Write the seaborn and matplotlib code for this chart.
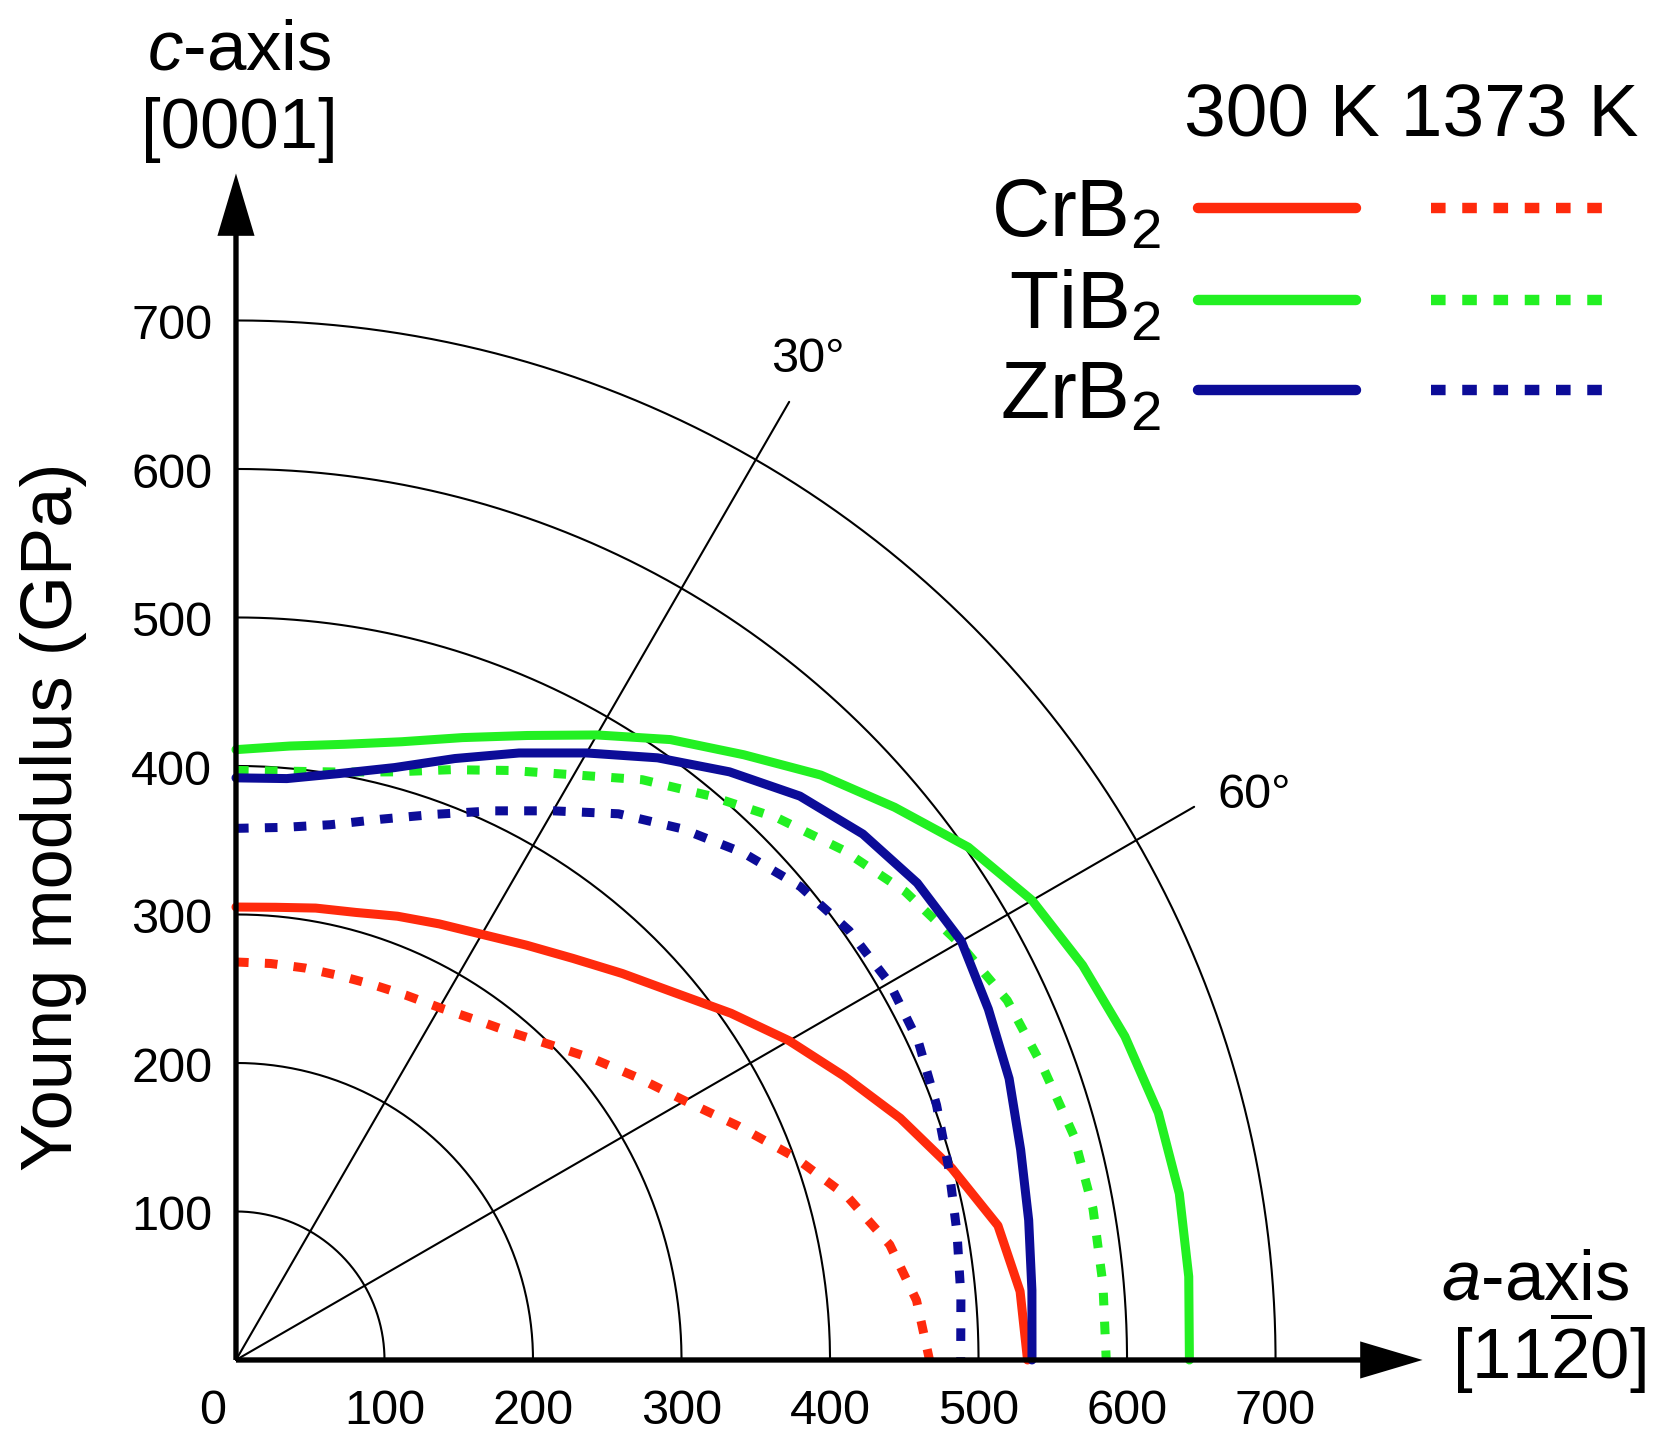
import numpy as np
import pandas as pd
import matplotlib
matplotlib.use("Agg")
import matplotlib.pyplot as plt
import seaborn as sns

# angle measured from the c-axis [0001] towards the a-axis, degrees
ANGLES = [0, 5, 10, 15, 20, 25, 30, 35, 40, 45, 50, 55, 60, 65, 70, 75, 80, 85, 90]

# Young modulus (GPa) read along each direction
CRB2_300K = [305, 306, 309, 312, 318, 324, 331, 341, 353, 368, 385, 407, 430, 452, 476, 499, 521, 530, 533]
CRB2_1373K = [268, 268, 268, 268, 269, 271, 274, 280, 288, 300, 315, 331, 349, 373, 400, 426, 447, 460, 467]
TIB2_300K = [411, 415, 421, 431, 446, 464, 486, 510, 532, 557, 579, 602, 619, 629, 637, 643, 645, 644, 642]
TIB2_1373K = [397, 398, 402, 410, 423, 438, 455, 477, 496, 516, 534, 550, 562, 573, 578, 584, 586, 586, 586]
ZRB2_300K = [392, 393, 401, 413, 431, 451, 472, 495, 517, 537, 551, 560, 564, 559, 554, 547, 542, 538, 536]
ZRB2_1373K = [358, 360, 366, 377, 391, 408, 427, 449, 467, 483, 496, 504, 508, 507, 502, 497, 493, 490, 488]

MATERIALS = ['CrB2', 'TiB2', 'ZrB2']
MATERIAL_LABELS = ['CrB$_2$', 'TiB$_2$', 'ZrB$_2$']
TEMPS = ['300 K', '1373 K']
COLORS = {'CrB2': '#ff2a0c', 'TiB2': '#22f022', 'ZrB2': '#0c0c98'}

GRID_RADII = [100, 200, 300, 400, 500, 600, 700]
RAY_ANGLES = [30, 60]
TICKS = [0, 100, 200, 300, 400, 500, 600, 700]

series = {
    ('CrB2', '300 K'): CRB2_300K, ('CrB2', '1373 K'): CRB2_1373K,
    ('TiB2', '300 K'): TIB2_300K, ('TiB2', '1373 K'): TIB2_1373K,
    ('ZrB2', '300 K'): ZRB2_300K, ('ZrB2', '1373 K'): ZRB2_1373K,
}
rows = []
for (mat, temp), vals in series.items():
    for ang, r in zip(ANGLES, vals):
        t = np.radians(ang)
        rows.append({'material': mat, 'temp': temp, 'x': r * np.sin(t), 'y': r * np.cos(t)})
df = pd.DataFrame(rows)

sns.set_style("white", rc={'text.color': 'black'})
plt.rcParams['font.family'] = ['Liberation Sans', 'DejaVu Sans']
plt.rcParams['mathtext.fontset'] = 'custom'
plt.rcParams['mathtext.rm'] = 'Liberation Sans'
plt.rcParams['mathtext.it'] = 'Liberation Sans:italic'
plt.rcParams['mathtext.default'] = 'regular'

fig = plt.figure(figsize=(16.63, 14.32), dpi=100)
ax = fig.add_axes([0, 0, 1, 1])
ax.set_xlim(-158.9, 960.9)
ax.set_ylim(-48.5, 915.8)
ax.axis('off')

# polar grid
arc = np.linspace(0, np.pi / 2, 200)
for r in GRID_RADII:
    ax.plot(r * np.sin(arc), r * np.cos(arc), color='black', lw=1.5, zorder=1)
for a in RAY_ANGLES:
    t = np.radians(a)
    ax.plot([0, 745 * np.sin(t)], [0, 745 * np.cos(t)], color='black', lw=1.5, zorder=1)

# axes with arrow heads
ax.arrow(0, 0, 0, 799, width=3.6, head_width=25, head_length=42,
         length_includes_head=True, fc='black', ec='none', zorder=4)
ax.arrow(0, 0, 799, 0, width=3.6, head_width=25, head_length=42,
         length_includes_head=True, fc='black', ec='none', zorder=4)

sns.lineplot(data=df, x='x', y='y', hue='material', style='temp',
             palette=COLORS, dashes={'300 K': '', '1373 K': (1.4, 1.8)},
             sort=False, estimator=None, lw=6.5, legend=False, ax=ax, zorder=3,
             solid_joinstyle='round')

# tick labels
for v in TICKS[1:]:
    ax.text(-16, v - 12.5, str(v), ha='right', va='baseline', fontsize=35, color='black')
for v in TICKS:
    ax.text(v if v else -16, -43, str(v), ha='center', va='baseline', fontsize=35, color='black')

ax.text(360, 665, '30°', ha='left', va='baseline', fontsize=35, color='black')
ax.text(661, 372, '60°', ha='left', va='baseline', fontsize=35, color='black')

ax.text(2, 869, r'$\mathit{c}$-axis', ha='center', va='baseline', fontsize=51, color='black')
ax.text(2, 816, '[0001]', ha='center', va='baseline', fontsize=51, color='black')
ax.text(875, 41, r'$\mathit{a}$-axis', ha='center', va='baseline', fontsize=51, color='black')
ax.text(884, -13, r'[11$\overline{2}$0]', ha='center', va='baseline', fontsize=51, color='black')
ax.text(-123, 366, 'Young modulus (GPa)', rotation=90, ha='center', va='center',
        fontsize=52, color='black')

# legend
ax.text(944, 824, '300 K 1373 K', ha='right', va='baseline', fontsize=54, color='black')
for mat, label, ly in zip(MATERIALS, MATERIAL_LABELS, [776, 714, 653]):
    ax.text(623, ly - 19, label, ha='right', va='baseline', fontsize=58, color='black')
    ax.plot([648, 754], [ly, ly], color=COLORS[mat], lw=7.5)
    ax.plot([805, 921], [ly, ly], color=COLORS[mat], lw=7.5, linestyle=(0, (1.4, 1.6)))

fig.savefig('out.png', dpi=100)
